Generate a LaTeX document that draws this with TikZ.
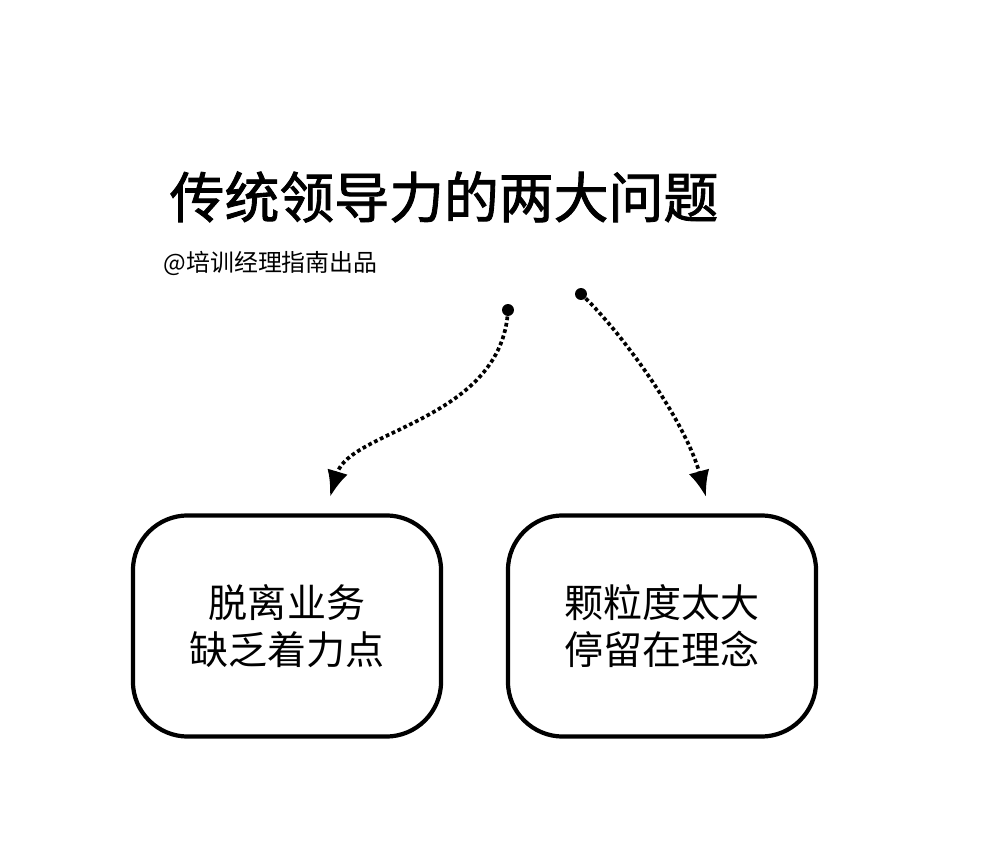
\documentclass[tikz,border=0pt]{standalone}
\usepackage{fontspec}
\newfontfamily\cjk{Noto Sans CJK SC}
\newfontfamily\cjkhead[FakeBold=1.6]{Noto Sans CJK SC}
\usetikzlibrary{arrows.meta}

\begin{document}
\begin{tikzpicture}[x=0.01cm,y=-0.01cm,
        box/.style={draw,line width=1.2pt,rounded corners=0.55cm,minimum width=3.08cm,minimum height=2.21cm,align=center,font=\cjk\fontsize{11.1pt}{13.4pt}\selectfont},
        link/.style={line width=1.05pt,dash pattern=on 1.05pt off 0.8pt,-{Latex[length=7.5pt,width=6pt]}}]
        \useasboundingbox (0,0) rectangle (1000,861);
        \node (title) at (444,197) {\cjkhead\fontsize{15.6pt}{18pt}\selectfont 传统领导力的两大问题};
        \node[anchor=west,inner sep=0pt] (brand) at (163,263) {\cjk\fontsize{6.8pt}{8pt}\selectfont @培训经理指南出品};
        \node[box] (left) at (287,626) {脱离业务\\缺乏着力点};
        \node[box] (right) at (662,626) {颗粒度太大\\停留在理念};
        \coordinate (s1) at (508,310);
        \coordinate (s2) at (581,294);
        \coordinate (e1) at (330,497);
        \coordinate (e2) at (706,497);
        \fill (s1) circle (1.7pt);
        \fill (s2) circle (1.7pt);
        \draw[link] (s1) .. controls (502,420) and (350,430) .. (e1);
        \draw[link] (s2) .. controls (620,330) and (685,420) .. (e2);
    \end{tikzpicture}
\end{document}
